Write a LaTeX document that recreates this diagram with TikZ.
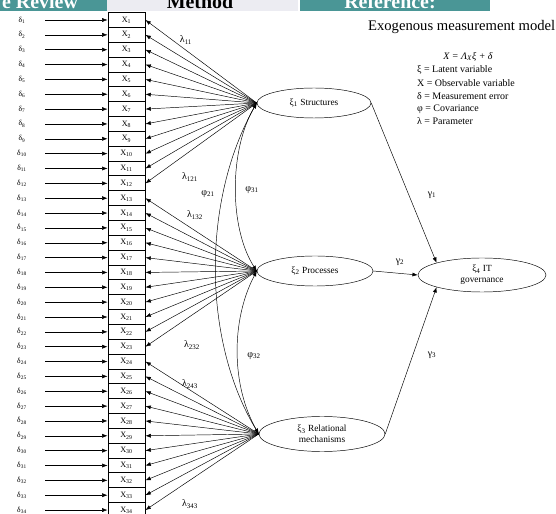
\documentclass[tikz,border=0pt]{standalone}
\usepackage{fontspec}
\setmainfont{Liberation Serif}
\usetikzlibrary{shapes.geometric,arrows.meta}
\definecolor{headteal}{RGB}{74,150,150}
\definecolor{headgray}{RGB}{236,236,242}
\begin{document}
\begin{tikzpicture}[x=0.03cm, y=-0.03cm]
  \tikzstyle{obsbox} = [rectangle, draw, thick, minimum width=1.11cm, minimum height=0.4455cm, inner sep=0pt, font=\fontsize{7}{8}\selectfont]
  \tikzstyle{errlabel} = [minimum width=1.38cm, inner sep=0pt, font=\fontsize{6.5}{7}\selectfont]
  \tikzstyle{latent} = [ellipse, draw, inner sep=0pt, align=center, font=\fontsize{8}{9}\selectfont]
  \tikzstyle{arrow} = [-{Latex[length=1.6mm,width=1.2mm]}]
  \tikzstyle{cov} = [{Latex[length=1.6mm,width=1.2mm]}-{Latex[length=1.6mm,width=1.2mm]}]
  \tikzstyle{lab} = [font=\fontsize{8.5}{10}\selectfont]
  \tikzstyle{legend} = [anchor=west, font=\fontsize{8.5}{10}\selectfont]
  \tikzstyle{header} = [anchor=base, font=\fontsize{17}{20}\selectfont\bfseries]

  \useasboundingbox (0,0) rectangle (556,514);
  \clip (0,0) rectangle (556,514);

  % Header bar
  \fill[headteal] (0,0) rectangle (107,11);
  \fill[headgray] (107,0) rectangle (298,11);
  \fill[headteal] (300,0) rectangle (490,11);
  \node (hrev) [header, text=white] at (40,9) {e Review};
  \node (hmeth) [header] at (200,9) {Method};
  \node (href) [header, text=white] at (390,9) {Reference:};

  % Errors and observed variables
  \foreach \i in {1,...,34} {
    \pgfmathsetmacro{\yy}{20+14.85*(\i-1)}
    \node (x\i) [obsbox] at (126.5,\yy) {X\textsubscript{\i}};
    \node (d\i) [errlabel] at (22,\yy) {δ\textsubscript{\i}};
    \draw[arrow] (d\i) -- (x\i);
  }

  % Latent variables
  \node (s1) [latent, minimum width=3.42cm, minimum height=0.9cm] at (314,103) {ξ\textsubscript{1} Structures};
  \node (s2) [latent, minimum width=3.48cm, minimum height=0.9cm] at (315,271) {ξ\textsubscript{2} Processes};
  \node (s3) [latent, minimum width=3.78cm, minimum height=1.05cm] at (322,434) {ξ\textsubscript{3} Relational\\mechanisms};
  \node (s4) [latent, minimum width=3.84cm, minimum height=1.02cm] at (482,275) {ξ\textsubscript{4} IT\\governance};

  % Loadings
  \foreach \i in {1,...,12} \draw[arrow] (s1.west) -- (x\i.east);
  \foreach \i in {13,...,23} \draw[arrow] (s2.west) -- (x\i.east);
  \foreach \i in {24,...,34} \draw[arrow] (s3.west) -- (x\i.east);

  % Covariances
  \draw[cov] (s1.west) .. controls (229,150) and (229,228) .. (s2.west);
  \draw[cov] (s2.west) .. controls (231,320) and (231,385) .. (s3.west);
  \draw[cov] (s1.west) .. controls (202,200) and (202,340) .. (s3.west);

  % Paths to IT governance
  \draw[arrow] (s1.east) -- (s4.north west);
  \draw[arrow] (s2.east) -- (s4.west);
  \draw[arrow] (s3.east) -- (s4.south west);

  % Labels
  \node (l11) [lab] at (186,40) {λ\textsubscript{11}};
  \node (l121) [lab] at (190,177) {λ\textsubscript{121}};
  \node (l132) [lab] at (195,215) {λ\textsubscript{132}};
  \node (l232) [lab] at (192,345) {λ\textsubscript{232}};
  \node (l243) [lab] at (190,384) {λ\textsubscript{243}};
  \node (l343) [lab] at (190,504) {λ\textsubscript{343}};
  \node (p21) [lab] at (208,194) {φ\textsubscript{21}};
  \node (p31) [lab] at (252,190) {φ\textsubscript{31}};
  \node (p32) [lab] at (254,356) {φ\textsubscript{32}};
  \node (g1) [lab] at (432,195) {γ\textsubscript{1}};
  \node (g2) [lab] at (400,262) {γ\textsubscript{2}};
  \node (g3) [lab] at (432,355) {γ\textsubscript{3}};

  % Legend
  \node (title) [anchor=west, font=\fontsize{12.5}{14}\selectfont] at (364,27) {Exogenous measurement model};
  \node (eq) [font=\fontsize{8.5}{10}\selectfont\itshape] at (468,57) {X = Λ\textsubscript{X}ξ + δ};
  \node (leg1) [legend] at (413,70) {ξ = Latent variable};
  \node (leg2) [legend] at (413,83) {X = Observable variable};
  \node (leg3) [legend] at (413,96) {δ = Measurement error};
  \node (leg4) [legend] at (413,109) {φ = Covariance};
  \node (leg5) [legend] at (413,121) {λ = Parameter};
\end{tikzpicture}
\end{document}
